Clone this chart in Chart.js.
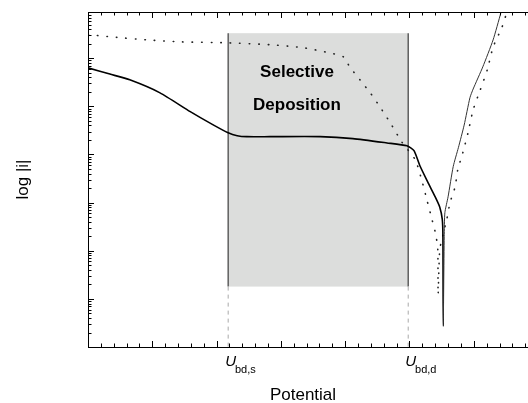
<!DOCTYPE html>
<html>
<head>
<meta charset="utf-8">
<script src="https://cdn.jsdelivr.net/npm/chart.js@4.4.0/dist/chart.umd.min.js"></script>
<style>
  html, body { margin: 0; padding: 0; background: #fff; }
</style>
</head>
<body>
<canvas id="chart" width="528" height="403"></canvas>
<script>
// polarisation curves, x = potential (arb. units), y = log10 |i|
const solidX = [0, 0.34, 0.65, 1.12, 1.59, 1.94, 2.18, 2.32, 2.47, 2.83, 3.61, 4.12, 4.65, 4.96, 5.07, 5.16, 5.29, 5.40, 5.47, 5.51, 5.52, 5.525, 5.54, 5.55, 5.60, 5.68, 5.76, 5.85, 5.94, 5.99, 6.14, 6.30, 6.42, 6.47];
const solidY = [5.80, 5.67, 5.55, 5.28, 4.89, 4.62, 4.45, 4.39, 4.37, 4.37, 4.37, 4.33, 4.24, 4.18, 4.08, 3.77, 3.41, 3.12, 2.91, 2.65, 2.29, 0.43, 2.29, 2.79, 3.12, 3.75, 4.14, 4.61, 5.18, 5.36, 5.82, 6.38, 6.94, 7.21];
const dottedX = [0, 0.39, 0.92, 1.43, 2.16, 2.83, 3.34, 3.76, 3.97, 4.07, 4.23, 4.39, 4.54, 4.70, 4.88, 5.09, 5.19, 5.27, 5.35, 5.41, 5.44, 5.445, 5.47, 5.52, 5.58, 5.63, 5.71, 5.75, 5.83, 5.91, 5.99, 6.10, 6.21, 6.30, 6.44, 6.50, 6.53];
const dottedY = [6.49, 6.44, 6.38, 6.34, 6.32, 6.28, 6.22, 6.11, 6.03, 5.82, 5.55, 5.28, 4.99, 4.66, 4.26, 3.89, 3.47, 3.06, 2.65, 2.33, 2.02, 1.09, 2.02, 2.33, 2.65, 3.00, 3.33, 3.68, 4.04, 4.45, 4.93, 5.34, 5.76, 6.23, 6.65, 6.90, 7.10];

// breakdown potentials and the selective deposition window
const breakdownLabels = ['bd,s', 'bd,d'];
const breakdownPotentials = [2.18, 4.98];
const windowLogLow = 1.255;
const windowLogHigh = 6.52;
const windowTitle = ['Selective', 'Deposition'];

const spikeIndex = solidY.indexOf(Math.min(...solidY));
const FONT = '"Liberation Sans", Arial, Helvetica, sans-serif';

const toPoints = (xs, ys) => xs.map((x, i) => ({ x: x, y: ys[i] }));

const windowPlugin = {
    id: 'depositionWindow',
    beforeDatasetsDraw(chart) {
        const { ctx, scales: { x, y }, chartArea } = chart;
        const x1 = x.getPixelForValue(breakdownPotentials[0]);
        const x2 = x.getPixelForValue(breakdownPotentials[1]);
        const yTop = y.getPixelForValue(windowLogHigh);
        const yBot = y.getPixelForValue(windowLogLow);
        ctx.save();
        ctx.fillStyle = '#dcdddc';
        ctx.fillRect(x1, yTop, x2 - x1, yBot - yTop);

        ctx.strokeStyle = '#555';
        ctx.lineWidth = 1.4;
        [x1, x2].forEach(px => {
            ctx.beginPath();
            ctx.moveTo(px, yTop);
            ctx.lineTo(px, yBot);
            ctx.stroke();
        });

        ctx.strokeStyle = '#aaa';
        ctx.lineWidth = 1;
        ctx.setLineDash([4, 4]);
        [x1, x2].forEach(px => {
            ctx.beginPath();
            ctx.moveTo(px, yBot);
            ctx.lineTo(px, chartArea.bottom);
            ctx.stroke();
        });
        ctx.setLineDash([]);

        ctx.fillStyle = '#000';
        ctx.font = 'bold 17px ' + FONT;
        ctx.textAlign = 'center';
        ctx.textBaseline = 'alphabetic';
        const cx = x.getPixelForValue(3.25);
        ctx.fillText(windowTitle[0], cx, y.getPixelForValue(5.61));
        ctx.fillText(windowTitle[1], cx, y.getPixelForValue(4.92));
        ctx.restore();
    }
};

const framePlugin = {
    id: 'frame',
    afterDraw(chart) {
        const { ctx, scales: { x, y }, chartArea: a } = chart;
        ctx.save();
        ctx.strokeStyle = '#000';
        ctx.lineWidth = 1;
        ctx.beginPath();
        ctx.moveTo(a.right, a.top + 0.5);
        ctx.lineTo(a.left + 0.5, a.top + 0.5);
        ctx.lineTo(a.left + 0.5, a.bottom + 0.5);
        ctx.lineTo(a.right, a.bottom + 0.5);
        ctx.stroke();

        // inward ticks along bottom and top
        ctx.beginPath();
        for (let i = 0; i * 0.2 <= x.max + 1e-9; i++) {
            const px = Math.round(x.getPixelForValue(i * 0.2)) + 0.5;
            const len = i % 5 === 0 ? 6 : 3.5;
            ctx.moveTo(px, a.bottom);
            ctx.lineTo(px, a.bottom - len);
            ctx.moveTo(px, a.top);
            ctx.lineTo(px, a.top + len);
        }
        // log ticks along the left side
        for (let d = Math.floor(y.min); d <= Math.ceil(y.max); d++) {
            for (let k = 1; k <= 9; k++) {
                const v = d + Math.log10(k);
                if (v < y.min - 1e-9 || v > y.max + 1e-9) continue;
                const py = Math.round(y.getPixelForValue(v)) + 0.5;
                ctx.moveTo(a.left, py);
                ctx.lineTo(a.left + (k === 1 ? 6 : 3.5), py);
            }
        }
        ctx.stroke();

        ctx.fillStyle = '#000';
        ctx.textBaseline = 'alphabetic';
        ctx.textAlign = 'left';
        breakdownPotentials.forEach((p, i) => {
            const px = x.getPixelForValue(p) - 3;
            ctx.font = 'italic 15px ' + FONT;
            ctx.fillText('U', px, 366);
            const w = ctx.measureText('U').width;
            ctx.font = '11px ' + FONT;
            ctx.fillText(breakdownLabels[i], px + w - 1, 373);
        });

        ctx.font = '17px ' + FONT;
        ctx.textAlign = 'center';
        ctx.fillText('Potential', 303, 400);

        ctx.translate(28, (a.top + a.bottom) / 2);
        ctx.rotate(-Math.PI / 2);
        ctx.fillText('log |i|', 0, 0);
        ctx.restore();
    }
};

new Chart(document.getElementById('chart'), {
    type: 'line',
    data: {
        datasets: [
            {
                data: toPoints(solidX, solidY),
                borderColor: '#000',
                borderWidth: 1.6,
                pointRadius: 0,
                tension: 0.2,
                segment: {
                    borderWidth: ctx => ctx.p0DataIndex >= spikeIndex ? 1 : 1.6,
                    borderColor: ctx => ctx.p0DataIndex >= spikeIndex ? '#333' : '#000'
                }
            },
            {
                data: toPoints(dottedX, dottedY),
                borderColor: '#222',
                borderWidth: 1.6,
                borderDash: [0.5, 9],
                borderCapStyle: 'round',
                pointRadius: 0,
                tension: 0.2
            }
        ]
    },
    options: {
        responsive: false,
        devicePixelRatio: 1,
        animation: false,
        layout: { padding: { left: 88, top: 12, right: 0, bottom: 56 } },
        plugins: { legend: { display: false }, tooltip: { enabled: false } },
        scales: {
            x: { type: 'linear', min: 0, max: 6.843, display: false },
            y: { type: 'linear', min: 0, max: 6.96, display: false }
        }
    },
    plugins: [windowPlugin, framePlugin]
});
</script>
</body>
</html>
